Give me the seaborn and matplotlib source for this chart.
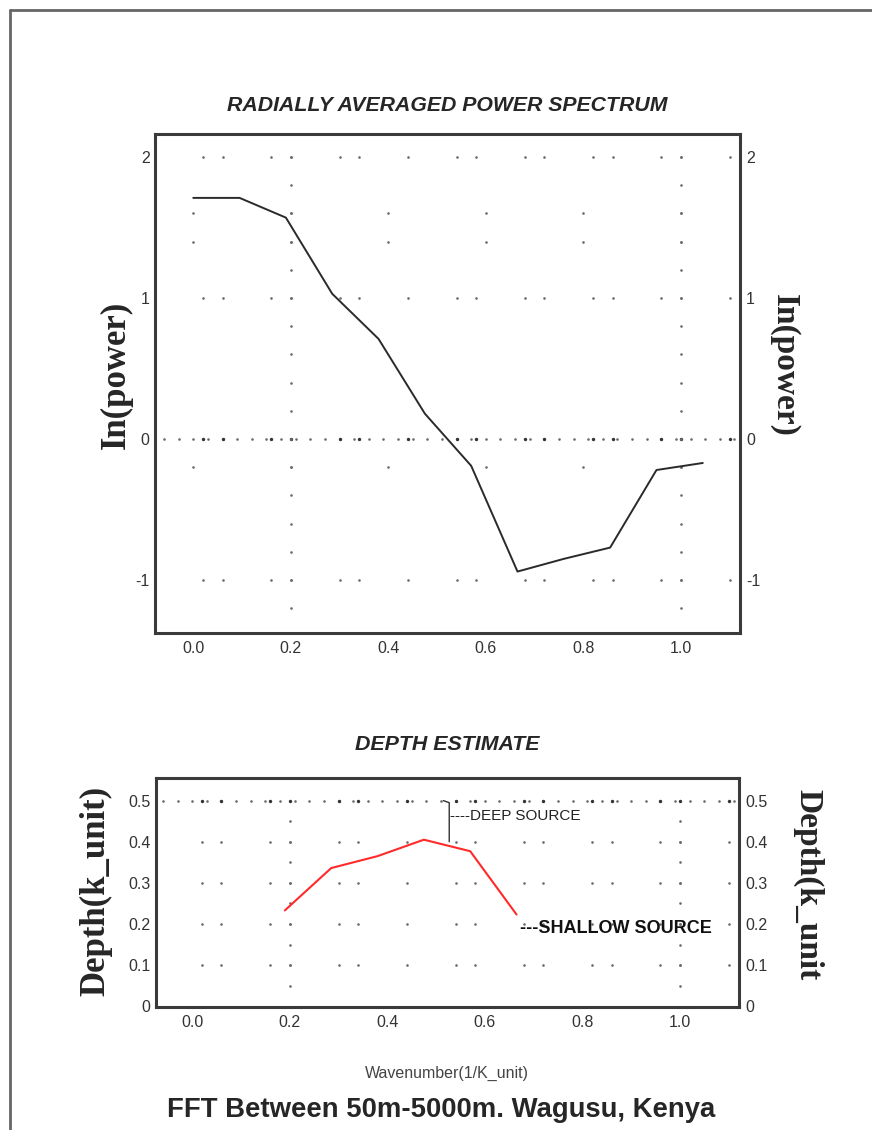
import numpy as np
import pandas as pd
import matplotlib
matplotlib.use('Agg')
import matplotlib.pyplot as plt
import seaborn as sns
from matplotlib.lines import Line2D

# veriler
wavenumber = [0.0, 0.095, 0.19, 0.285, 0.38, 0.475, 0.57, 0.665, 0.76, 0.855, 0.95, 1.045]
ln_power = [1.71, 1.71, 1.57, 1.03, 0.71, 0.18, -0.19, -0.94, -0.85, -0.77, -0.22, -0.17]

depth_k = [0.19, 0.285, 0.38, 0.475, 0.57, 0.665]
depth_val = [0.233, 0.336, 0.365, 0.405, 0.377, 0.223]

x_ticks = [0.0, 0.2, 0.4, 0.6, 0.8, 1.0]
x_tick_labels = ['0.0', '0.2', '0.4', '0.6', '0.8', '1.0']
power_ticks = [-1, 0, 1, 2]
power_tick_labels = ['-1', '0', '1', '2']
depth_ticks = [0.0, 0.1, 0.2, 0.3, 0.4, 0.5]
depth_tick_labels = ['0', '0.1', '0.2', '0.3', '0.4', '0.5']

spec_df = pd.DataFrame({'k': wavenumber, 'p': ln_power})
depth_df = pd.DataFrame({'k': depth_k, 'd': depth_val})

sns.set_theme(style='white')
NARROW = ['Liberation Sans Narrow', 'Liberation Sans', 'DejaVu Sans']
SERIF = ['Liberation Serif', 'DejaVu Serif']
plt.rcParams['font.family'] = NARROW

fig = plt.figure(figsize=(8.72, 11.3), dpi=100)
ax1 = fig.add_axes([0.178, 0.4398, 0.671, 0.4416])
ax2 = fig.add_axes([0.179, 0.1088, 0.669, 0.2027])

# noktali izgara (ozgun programin deseni)
pair_x = [0.02, 0.06, 0.16, 0.20, 0.30, 0.34, 0.44, 0.54, 0.58, 0.68, 0.72,
          0.82, 0.86, 0.96, 1.00, 1.10]
dot_kw = dict(s=3.5, color='#6a6a6a', linewidths=0, zorder=1)


def draw_dots(ax, rows, dense_y, col_y, extra_rows=()):
    for yy in rows:
        ax.scatter(pair_x, [yy] * len(pair_x), **dot_kw)
    dense = np.arange(-0.06, 1.12, 0.03)
    ax.scatter(dense, [dense_y] * len(dense), **dot_kw)
    ax.scatter(pair_x, [dense_y] * len(pair_x), s=6, color='#333333', linewidths=0, zorder=1)
    for xx in (0.2, 1.0):
        ax.scatter([xx] * len(col_y), col_y, **dot_kw)
    for yy in extra_rows:
        ax.scatter(x_ticks, [yy] * len(x_ticks), **dot_kw)


draw_dots(ax1, [2, 1, -1], 0, np.arange(-1.2, 2.01, 0.2), extra_rows=[1.6, 1.4, -0.2])
draw_dots(ax2, [0.4, 0.3, 0.2, 0.1], 0.5, np.arange(0.05, 0.46, 0.05))

# cizgiler
sns.lineplot(data=spec_df, x='k', y='p', ax=ax1, color='#2a2a2a', lw=1.4,
             sort=False, zorder=3)
sns.lineplot(data=depth_df, x='k', y='d', ax=ax2, color='#ff2a2a', lw=1.5,
             sort=False, zorder=3)

ax1.set_xlim(-0.078, 1.122)
ax1.set_ylim(-1.376, 2.163)
ax2.set_xlim(-0.074, 1.122)
ax2.set_ylim(-0.002, 0.555)

for ax, yt, ytl in [(ax1, power_ticks, power_tick_labels),
                    (ax2, depth_ticks, depth_tick_labels)]:
    ax.set_xlabel('')
    ax.set_ylabel('')
    ax.set_xticks(x_ticks)
    ax.set_xticklabels(x_tick_labels)
    ax.set_yticks(yt)
    ax.set_yticklabels(ytl)
    ax.tick_params(axis='both', length=0, labelsize=11.5, colors='#333333')
    ax.tick_params(axis='x', pad=6)
    ax.tick_params(axis='y', pad=4, labelright=True, right=True)
    for sp in ax.spines.values():
        sp.set_visible(True)
        sp.set_color('#3a3a3a')
        sp.set_linewidth(2.2)
    ax.grid(False)

# kaynak notlari
ax2.plot([0.515, 0.527, 0.527], [0.5, 0.495, 0.4], color='#333333', lw=1.0)
ax2.text(0.529, 0.463, '----DEEP SOURCE', ha='left', va='center',
         fontsize=11, color='#222222', family=NARROW)
ax2.text(0.672, 0.19, '---SHALLOW SOURCE', ha='left', va='center',
         fontsize=13, fontweight='bold', color='#111111', family=NARROW)

# basliklar
fig.text(0.513, 0.907, 'RADIALLY AVERAGED POWER SPECTRUM', ha='center', va='center',
         fontsize=15.3, fontweight='bold', fontstyle='italic', family=NARROW)
fig.text(0.513, 0.341, 'DEPTH ESTIMATE', ha='center', va='center',
         fontsize=15.4, fontweight='bold', fontstyle='italic', family=NARROW)
fig.text(0.513, 0.0504, 'Wavenumber(1/K_unit)', ha='center', va='center',
         fontsize=11.5, color='#444444', family=NARROW)
fig.text(0.506, 0.0177, 'FFT Between 50m-5000m. Wagusu, Kenya', ha='center',
         va='center', fontsize=19.8, fontweight='bold', family=NARROW)

fig.text(0.133, 0.668, 'In(power)', rotation=90, ha='center', va='center',
         fontsize=25, fontweight='bold', family=SERIF)
fig.text(0.900, 0.677, 'In(power)', rotation=270, ha='center', va='center',
         fontsize=24, fontweight='bold', family=SERIF)
fig.text(0.1095, 0.212, 'Depth(k_unit)', rotation=90, ha='center', va='center',
         fontsize=25, fontweight='bold', family=SERIF)
fig.text(0.927, 0.217, 'Depth(k_unit', rotation=270, ha='center', va='center',
         fontsize=24, fontweight='bold', family=SERIF)

# dis cerceve
fig.add_artist(Line2D([0.0115, 0.0115], [0.0, 0.991], color='#666666', lw=2,
                      transform=fig.transFigure))
fig.add_artist(Line2D([0.0115, 1.0], [0.991, 0.991], color='#666666', lw=2,
                      transform=fig.transFigure))

fig.savefig('out.png', dpi=100)
plt.close(fig)
